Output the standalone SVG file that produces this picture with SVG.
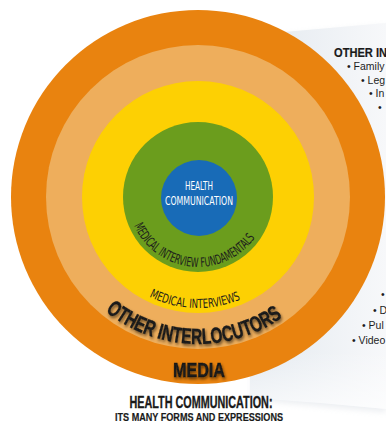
<svg xmlns="http://www.w3.org/2000/svg" width="386" height="428" viewBox="0 0 386 428">
<defs>
<linearGradient id="panelGrad" x1="0" y1="0" x2="1" y2="0">
<stop offset="0" stop-color="#e3e9ef"/>
<stop offset="1" stop-color="#f7f8fa"/>
</linearGradient>
<linearGradient id="panelFade" x1="0" y1="0" x2="0" y2="1">
<stop offset="0" stop-color="#ffffff" stop-opacity="0"/>
<stop offset="0.85" stop-color="#ffffff" stop-opacity="0"/>
<stop offset="1" stop-color="#ffffff" stop-opacity="0.7"/>
</linearGradient>
<filter id="panelShadow" x="-10%" y="-10%" width="120%" height="120%">
<feGaussianBlur stdDeviation="3"/>
</filter>
<filter id="textShadow" x="-20%" y="-30%" width="140%" height="180%">
<feGaussianBlur in="SourceAlpha" stdDeviation="1.6"/>
<feOffset dx="0.5" dy="2" result="b"/>
<feFlood flood-color="#000" flood-opacity="0.6"/>
<feComposite in2="b" operator="in"/>
<feMerge><feMergeNode/><feMergeNode in="SourceGraphic"/></feMerge>
</filter>
<path id="arcGreen" d="M134.05,225.47 A70,70 0 0 0 255.34,237.15"/>
<path id="arcYellow" d="M149.33,296.8 A111,111 0 0 0 241.37,299.17"/>
<path id="arcOrange" d="M105.49,311.24 A147,147 0 0 0 282.32,317.42"/>
</defs>
<style>
.cond { font-family: "Liberation Sans Narrow", "DejaVu Sans Condensed", "Liberation Sans", sans-serif; }
.bold { font-family: "Liberation Sans", Arial, sans-serif; font-weight: bold; stroke: #1a1a1a; stroke-width: 0.35; }
.list { font-family: "Liberation Sans", Arial, sans-serif; font-size: 10.5px; fill: #1e1e1e; }
.arcText { font-family: "Liberation Sans Narrow", "DejaVu Sans Condensed", "Liberation Sans", sans-serif; fill: #1c1c1c; }
</style>
<rect width="386" height="428" fill="#ffffff"/>
<g id="panel">
<polygon points="252,38 386,26 386,412 320,406 252,400" fill="#d3d9e0" filter="url(#panelShadow)" opacity="0.45"/>
<polygon points="250,35 386,23 386,409 320,403 250,398" fill="url(#panelGrad)"/>
<polygon points="250,35 386,23 386,409 320,403 250,398" fill="url(#panelFade)"/>
</g>
<g id="ring-media"><circle cx="198" cy="197" r="187" fill="#e9830f"/></g>
<g id="ring-other"><circle cx="198" cy="197" r="152" fill="#eeae5c"/></g>
<g id="ring-interviews"><circle cx="198" cy="197" r="116" fill="#fdd003"/></g>
<g id="ring-fundamentals"><circle cx="198" cy="197" r="75" fill="#6b9d1d"/></g>
<g id="core"><circle cx="199" cy="198" r="38" fill="#186bb7"/>
<text class="cond" x="199" y="190" font-size="12" fill="#ffffff" text-anchor="middle" textLength="28" lengthAdjust="spacingAndGlyphs">HEALTH</text>
<text class="cond" x="199" y="205" font-size="12" fill="#ffffff" text-anchor="middle" textLength="68" lengthAdjust="spacingAndGlyphs">COMMUNICATION</text>
</g>
<g id="labels">
<text class="arcText" font-size="13"><textPath href="#arcGreen" textLength="147" lengthAdjust="spacingAndGlyphs">MEDICAL INTERVIEW FUNDAMENTALS</textPath></text>
<text class="arcText" font-size="12.5"><textPath href="#arcYellow" textLength="94" lengthAdjust="spacingAndGlyphs">MEDICAL INTERVIEWS</textPath></text>
<text class="bold" font-size="22" fill="#1a1a1a" filter="url(#textShadow)"><textPath href="#arcOrange" textLength="190" lengthAdjust="spacingAndGlyphs">OTHER INTERLOCUTORS</textPath></text>
<text class="bold" x="199" y="377" font-size="20" fill="#1a1a1a" text-anchor="middle" textLength="52" lengthAdjust="spacingAndGlyphs" filter="url(#textShadow)">MEDIA</text>
</g>
<g id="side-list">
<text class="bold" x="334" y="57" font-size="12.5" fill="#1a1a1a" textLength="53" lengthAdjust="spacingAndGlyphs" style="stroke-width:0.2">OTHER IN</text>
<text class="list" x="347" y="70">• Family</text>
<text class="list" x="361" y="84">• Leg</text>
<text class="list" x="369" y="97">• In</text>
<text class="list" x="378" y="111">•</text>
<text class="list" x="381" y="298">•</text>
<text class="list" x="373" y="314">• D</text>
<text class="list" x="362" y="329">• Pul</text>
<text class="list" x="352" y="344">• Video</text>
</g>
<g id="title">
<text class="bold" x="201" y="408" font-size="16" fill="#1a1a1a" text-anchor="middle" textLength="143" lengthAdjust="spacingAndGlyphs">HEALTH COMMUNICATION:</text>
<text class="bold" x="199" y="421" font-size="11.5" fill="#1a1a1a" text-anchor="middle" textLength="168" lengthAdjust="spacingAndGlyphs" style="stroke-width:0.2">ITS MANY FORMS AND EXPRESSIONS</text>
</g>
</svg>
